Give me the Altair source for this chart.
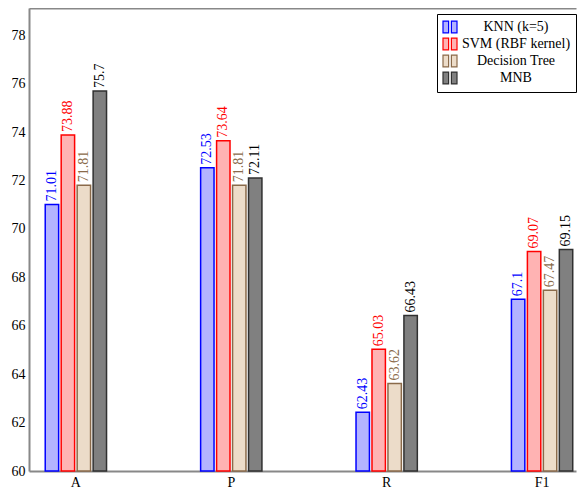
import altair as alt
import pandas as pd

metrics = ["A", "P", "R", "F1"]
models = ["KNN (k=5)", "SVM (RBF kernel)", "Decision Tree", "MNB"]
knn = [71.01, 72.53, 62.43, 67.1]
svm = [73.88, 73.64, 65.03, 69.07]
dtree = [71.81, 71.81, 63.62, 67.47]
mnb = [75.7, 72.11, 66.43, 69.15]

fills = ["#b3b3ff", "#ffb3b3", "#ecdcc9", "#808080"]
strokes = ["#0000ff", "#ff0000", "#8a6a4a", "#303030"]
text_colors = ["#0000ff", "#ff0000", "#8a6a4a", "#000000"]

rows = []
for model, vals in zip(models, [knn, svm, dtree, mnb]):
    for m, v in zip(metrics, vals):
        rows.append({"metric": m, "model": model, "value": v, "label": str(v)})
df = pd.DataFrame(rows)

FONT = "Liberation Serif"
FRAME = "#888888"

x_scale = alt.Scale(paddingInner=0.58, paddingOuter=0.05, align=0.917)
x_bottom = alt.X("metric:N", sort=metrics, scale=x_scale,
                 axis=alt.Axis(title=None, labelAngle=0, ticks=False, tickSize=0, labelPadding=4,
                               labelFont=FONT, labelFontSize=14, labelColor="#000000",
                               domainColor=FRAME, domainWidth=2))
x_top = alt.X("metric:N", sort=metrics, scale=x_scale,
              axis=alt.Axis(title=None, orient="top", labels=False, ticks=False, tickSize=0,
                            domainColor=FRAME, domainWidth=2))
xo = alt.XOffset("model:N", sort=models,
                 scale=alt.Scale(paddingInner=0.16, paddingOuter=0.124))
y = alt.Y("value:Q",
          scale=alt.Scale(domain=[60, 79.13], nice=False, zero=False),
          axis=alt.Axis(title=None, values=list(range(60, 80, 2)), ticks=False, tickSize=0,
                        grid=False, labelPadding=4, labelFont=FONT, labelFontSize=14,
                        labelColor="#000000", domainColor=FRAME, domainWidth=2))

legend = alt.Legend(
    title=None, orient="none", legendX=408, legendY=6,
    symbolType="M-1,-0.85H-0.2V0.85H-1Z M0.2,-0.85H1V0.85H0.2Z",
    symbolSize=196, symbolStrokeWidth=1.2,
    labelAlign="center", labelOffset=58, labelFont=FONT, labelFontSize=14,
    labelColor="#000000", rowPadding=-1, padding=5,
    strokeColor="#000000", fillColor="#ffffff",
)

bars = alt.Chart(df).mark_bar(strokeWidth=1.5).encode(
    x=x_bottom, xOffset=xo, y=y, y2=alt.datum(60),
    fill=alt.Fill("model:N", sort=models, scale=alt.Scale(domain=models, range=fills), legend=legend),
    stroke=alt.Stroke("model:N", sort=models, scale=alt.Scale(domain=models, range=strokes), legend=legend),
)

labels = alt.Chart(df).mark_text(angle=270, align="left", baseline="middle", dx=3,
                                 font=FONT, fontSize=14).encode(
    x=x_top, xOffset=xo, y=y,
    text="label:N",
    color=alt.Color("model:N", sort=models, scale=alt.Scale(domain=models, range=text_colors), legend=None),
)

chart = alt.layer(bars, labels).resolve_axis(x="independent").properties(
    width=547, height=463,
    padding={"left": 3, "top": 0, "right": 0, "bottom": 0},
).configure_view(stroke=None, fill="#ffffff")

chart.save("out.html", embed_options={"renderer": "svg", "actions": False})
